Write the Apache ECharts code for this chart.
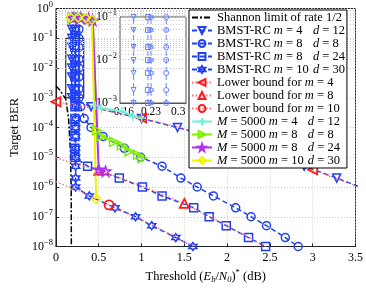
<!DOCTYPE html>
<html><head><meta charset="utf-8">
<script src="https://cdn.jsdelivr.net/npm/echarts@6/dist/echarts.min.js"></script>
<style>html,body{margin:0;padding:0;background:#fff}#c{width:366px;height:289px}</style>
</head><body><div id="c"></div><script>
// ---------- data ----------
const berTargets = [5e-1,2e-1,1e-1,5e-2,2e-2,1e-2,5e-3,2e-3,1e-3,5e-4,2e-4,1e-4,5e-5,2e-5,1e-5,5e-6,2e-6,1e-6,5e-7,2e-7,1e-7,5e-8,2e-8,1e-8];
// thresholds (dB) for each target BER, in the order of berTargets
const bmstM4D12  = [0.185,0.185,0.185,0.185,0.185,0.185,0.185,0.185,0.185,0.41,1.0,1.42,1.82,2.29,2.62,2.90,3.28,3.55];
const bmstM8D8   = [0.269,0.269,0.269,0.269,0.269,0.269,0.269,0.269,0.269,0.29,0.33,0.41,0.55,0.80,0.99,1.24,1.46,1.65,1.84,2.10,2.28,2.46,2.68,2.83];
const bmstM8D24  = [0.222,0.222,0.222,0.222,0.222,0.222,0.222,0.222,0.222,0.222,0.222,0.222,0.222,0.222,0.222,0.37,0.74,1.01,1.24,1.61,1.79,1.99,2.25,2.45];
const bmstM10D30 = [0.23,0.23,0.23,0.23,0.23,0.23,0.23,0.23,0.23,0.23,0.23,0.23,0.23,0.23,0.23,0.23,0.23,0.23,0.39,0.69,0.93,1.12,1.40,1.60];

const shannonX = [0, 0.04, 0.115, 0.147, 0.169, 0.178, 0.18];
const shannonY = [2.5e-3, 1.9e-3, 9e-4, 2.1e-4, 1.7e-5, 1e-6, 1e-8];

const lbM4X = [0, 0.5, 1, 1.5, 2, 2.5, 3, 3.5];
const lbM4Y = [7.3e-4, 4.2e-4, 2.1e-4, 9e-5, 3.2e-5, 1.2e-5, 3.8e-6, 1.1e-6];
const lbM4Marked = [0, 1, 2, 3];
const lbM8X = [0, 0.5, 1, 1.5, 2, 2.45];
const lbM8Y = [9.5e-6, 3.6e-6, 1.1e-6, 2.8e-7, 5e-8, 1e-8];
const lbM8Marked = [0.5, 1.5];
const lbM10X = [0, 0.25, 0.5, 0.62, 0.75, 1, 1.25, 1.5, 1.62];
const lbM10Y = [1.5e-6, 8e-7, 3.5e-7, 2.5e-7, 1.6e-7, 8e-8, 3.5e-8, 1.4e-8, 1e-8];
const lbM10Marked = [0.62];

const m5kM4D12X  = [0.18, 0.27, 0.36, 0.42, 0.46, 0.53, 0.77, 0.90, 1.0];
const m5kM4D12Y  = [0.47, 0.47, 0.46, 0.42, 5.5e-4, 4.4e-4, 3.5e-4, 2.4e-4, 2.1e-4];
const m5kM8D8X   = [0.19, 0.28, 0.37, 0.43, 0.48, 0.53, 0.68, 0.77, 0.86, 0.96, 1.01];
const m5kM8D8Y   = [0.47, 0.46, 0.45, 0.40, 8e-5, 5.1e-5, 3.3e-5, 2.5e-5, 1.6e-5, 1.2e-5, 9.5e-6];
const m5kM8D24X  = [0.20, 0.29, 0.38, 0.43, 0.50, 0.58];
const m5kM8D24Y  = [0.48, 0.48, 0.46, 0.40, 3.9e-6, 3.4e-6];
const m5kM10D30X = [0.17, 0.26, 0.35, 0.42, 0.47];
const m5kM10D30Y = [0.5, 0.5, 0.48, 0.42, 4e-7];

const insetXTicks = [0.16, 0.23, 0.3];
const zoomBoxX = [0.115, 0.325];
const zoomBoxY = [1e-3, 1e-1];

// ---------- styling ----------
const FONT = 'Liberation Serif';
const BLUE = '#1f3ff5', BLUE_IN = '#6b84ff', RED = '#ff1a1a', RED_L = '#ff7070';
const CYAN = '#6ff2d6', GREEN = '#80f000', MAG = '#b030f0', YEL = '#f2f200';
const HEX = 'path://M0,-10L2.887,-5L8.66,-5L5.774,0L8.66,5L2.887,5L0,10L-2.887,5L-8.66,5L-5.774,0L-8.66,-5L-2.887,-5Z';
const PENT = 'path://M0,-10L2.245,-3.09L9.511,-3.09L3.633,1.18L5.878,8.09L0,3.82L-5.878,8.09L-3.633,1.18L-9.511,-3.09L-2.245,-3.09Z';
const PLUS = 'path://M0,-10L0,10M-10,0L10,0';

const zip = (xs, ys) => xs.map((x, i) => [x, ys[i]]);
const withTargets = xs => xs.map((x, i) => [x, berTargets[i]]);
const marked = (xs, ys, mk) => xs.map((x, i) => mk.indexOf(x) >= 0 ? [x, ys[i]] : {value: [x, ys[i]], symbol: 'none'});

function hollow(color, w) { return {color: 'rgba(0,0,0,0)', borderColor: color, borderWidth: w || 1.5}; }

const N = {
  sh: 'Shannon limit of rate 1/2',
  b1: 'BMST-RC m=4 d=12', b2: 'BMST-RC m=8 d=8', b3: 'BMST-RC m=8 d=24', b4: 'BMST-RC m=10 d=30',
  l1: 'Lower bound m=4', l2: 'Lower bound m=8', l3: 'Lower bound m=10',
  f1: 'M=5000 m=4 d=12', f2: 'M=5000 m=8 d=8', f3: 'M=5000 m=8 d=24', f4: 'M=5000 m=10 d=30'
};
const legendText = {};
legendText[N.sh] = '{t|Shannon limit of rate 1/2}';
legendText[N.b1] = '{t|BMST-RC }{i|m}{a| = 4}{i|d}{t| = 12}';
legendText[N.b2] = '{t|BMST-RC }{i|m}{a| = 8}{i|d}{t| = 8}';
legendText[N.b3] = '{t|BMST-RC }{i|m}{a| = 8}{i|d}{t| = 24}';
legendText[N.b4] = '{t|BMST-RC }{i|m}{a| = 10}{i|d}{t| = 30}';
legendText[N.l1] = '{t|Lower bound for }{i|m}{t| = 4}';
legendText[N.l2] = '{t|Lower bound for }{i|m}{t| = 8}';
legendText[N.l3] = '{t|Lower bound for }{i|m}{t| = 10}';
legendText[N.f1] = '{i|M}{t| = 5000 }{i|m}{a| = 4}{i|d}{t| = 12}';
legendText[N.f2] = '{i|M}{t| = 5000 }{i|m}{a| = 8}{i|d}{t| = 8}';
legendText[N.f3] = '{i|M}{t| = 5000 }{i|m}{a| = 8}{i|d}{t| = 24}';
legendText[N.f4] = '{i|M}{t| = 5000 }{i|m}{a| = 10}{i|d}{t| = 30}';

const minorVals = [];
for (let e = -8; e < 0; e++) for (let k = 2; k <= 9; k++) minorVals.push(k * Math.pow(10, e));

const powLabel = v => { const e = Math.round(Math.log10(v)); return '{b|10}{e|' + (e < 0 ? '\u2212' + (-e) : e) + '}'; };
const powRich = {
  b: {fontFamily: FONT, fontSize: 12, color: '#000'},
  e: {fontFamily: FONT, fontSize: 8.5, color: '#000', padding: [0, 0, 8, 0]}
};

function bmst(name, xs, sym, rot, inset) {
  return {
    name: inset ? 'in-' + name : name, type: 'line', data: withTargets(xs),
    xAxisIndex: inset ? 1 : 0, yAxisIndex: inset ? 1 : 0,
    symbol: sym, symbolRotate: rot || 0, symbolSize: inset ? 5 : 8,
    lineStyle: {color: inset ? BLUE_IN : BLUE, width: inset ? 1 : 1.5, type: [5, 3]},
    itemStyle: hollow(inset ? BLUE_IN : BLUE, inset ? 1 : 1.5),
    clip: true, z: inset ? 6 : 3, animation: false
  };
}
function bound(name, xs, ys, mk, sym, rot) {
  return {
    name, type: 'line', data: marked(xs, ys, mk), symbol: sym, symbolRotate: rot || 0, symbolSize: 9,
    lineStyle: {color: RED_L, width: 1.3, type: [1.5, 2]},
    itemStyle: hollow(RED, 1.8), clip: true, z: 4, animation: false
  };
}
function fin(name, xs, ys, color, sym, rot, size) {
  return {
    name, type: 'line', data: zip(xs, ys), symbol: sym, symbolRotate: rot || 0, symbolSize: size || 8,
    lineStyle: {color, width: 2}, itemStyle: sym === PLUS ? {color, borderColor: color, borderWidth: 1.5} : hollow(color, 1.5),
    clip: true, z: 5, animation: false
  };
}

const series = [
  {name: '__minor', type: 'line', data: [], z: 1, silent: true, animation: false,
   markLine: {silent: true, symbol: 'none', label: {show: false}, animation: false,
     lineStyle: {color: '#c8c8c8', type: [1, 2], width: 1}, data: minorVals.map(v => ({yAxis: v}))}},
  {name: N.sh, type: 'line', data: zip(shannonX, shannonY), symbol: 'circle', showSymbol: false,
   lineStyle: {color: '#000', width: 1.5, type: [6, 2, 2, 2]}, itemStyle: {color: 'rgba(0,0,0,0)', borderWidth: 0}, z: 3, animation: false,
   markArea: {silent: true, itemStyle: {color: 'rgba(0,0,0,0)', borderColor: '#000', borderWidth: 1},
     data: [[{coord: [zoomBoxX[0], zoomBoxY[1]]}, {coord: [zoomBoxX[1], zoomBoxY[0]]}]]}},
  bmst(N.b1, bmstM4D12, 'triangle', 180),
  bmst(N.b2, bmstM8D8, 'circle'),
  bmst(N.b3, bmstM8D24, 'rect'),
  bmst(N.b4, bmstM10D30, HEX),
  bound(N.l1, lbM4X, lbM4Y, lbM4Marked, 'triangle', 90),
  bound(N.l2, lbM8X, lbM8Y, lbM8Marked, 'triangle'),
  bound(N.l3, lbM10X, lbM10Y, lbM10Marked, 'circle'),
  fin(N.f1, m5kM4D12X, m5kM4D12Y, CYAN, PLUS, 0, 9),
  fin(N.f2, m5kM8D8X, m5kM8D8Y, GREEN, 'triangle', -90, 9),
  fin(N.f3, m5kM8D24X, m5kM8D24Y, MAG, PENT, 0, 10),
  fin(N.f4, m5kM10D30X, m5kM10D30Y, YEL, 'diamond', 0, 9),
  {name: '__insetbg', type: 'line', data: [], xAxisIndex: 1, yAxisIndex: 1, z: 5.5, silent: true, animation: false,
   markArea: {silent: true, itemStyle: {color: '#fff'}, data: [[{xAxis: 'min', yAxis: 'max'}, {xAxis: 'max', yAxis: 'min'}]]}},
  bmst(N.b1, bmstM4D12, 'triangle', 180, true),
  bmst(N.b2, bmstM8D8, 'circle', 0, true),
  bmst(N.b3, bmstM8D24, 'rect', 0, true),
  bmst(N.b4, bmstM10D30, HEX, 0, true)
];

const axisLineStyle = {lineStyle: {color: '#222', width: 1}};
const option = {
  backgroundColor: '#fff',
  animation: false,
  textStyle: {fontFamily: FONT},
  grid: [
    {left: 39, right: 6, top: 8, bottom: 31, show: true, borderColor: '#222', borderWidth: 1, backgroundColor: '#fff'},
    {left: 120, top: 17, width: 66, height: 86, show: true, borderColor: '#555', borderWidth: 1, backgroundColor: '#fff', z: 3}
  ],
  xAxis: [
    {type: 'value', gridIndex: 0, min: 0, max: 3.5, interval: 0.5,
     name: '{t|Threshold (}{i|E}{s|b}{t|/}{i|N}{s|0}{t|)}{p|*}{t| (dB)}', nameLocation: 'middle', nameGap: 22,
     nameTextStyle: {rich: {
       t: {fontFamily: FONT, fontSize: 12.5, color: '#000'},
       i: {fontFamily: FONT, fontSize: 12.5, fontStyle: 'italic', color: '#000'},
       s: {fontFamily: FONT, fontSize: 8.5, fontStyle: 'italic', color: '#000', padding: [6, 0, 0, 0]},
       p: {fontFamily: FONT, fontSize: 8.5, color: '#000', padding: [0, 0, 7, 0]}}},
     axisLine: axisLineStyle, axisTick: {inside: true, length: 3, lineStyle: {color: '#222'}},
     axisLabel: {fontFamily: FONT, fontSize: 12, color: '#000', margin: 5},
     splitLine: {show: true, lineStyle: {color: '#c8c8c8', type: [1, 2]}}},
    {type: 'value', gridIndex: 1, min: 0.15, max: 0.32,
     axisLine: {lineStyle: {color: '#555'}},
     axisTick: {inside: true, length: 2, customValues: insetXTicks, lineStyle: {color: '#555'}},
     axisLabel: {customValues: insetXTicks, fontFamily: FONT, fontSize: 11.5, color: '#000', margin: 3, formatter: v => String(v)},
     splitLine: {show: false}}
  ],
  yAxis: [
    {type: 'log', gridIndex: 0, min: 1e-8, max: 1, logBase: 10, splitNumber: 8,
     name: 'Target BER', nameLocation: 'middle', nameGap: 27,
     nameTextStyle: {fontFamily: FONT, fontSize: 12.5, color: '#000'},
     axisLine: axisLineStyle, axisTick: {inside: true, length: 3, lineStyle: {color: '#222'}},
     axisLabel: {formatter: powLabel, rich: powRich, margin: 3},
     splitLine: {show: true, lineStyle: {color: '#c8c8c8', type: [1, 2]}}},
    {type: 'log', gridIndex: 1, min: 1e-3, max: 1e-1, logBase: 10,
     axisLine: {lineStyle: {color: '#555'}},
     axisTick: {inside: true, length: 2, lineStyle: {color: '#555'}},
     axisLabel: {formatter: powLabel, rich: powRich, margin: 3},
     splitLine: {show: false}}
  ],
  legend: {
    data: [N.sh, N.b1, N.b2, N.b3, N.b4, N.l1, N.l2, N.l3, N.f1, N.f2, N.f3, N.f4],
    orient: 'vertical', left: 189, top: 10, width: 170,
    backgroundColor: '#fff', borderColor: '#000', borderWidth: 1, borderRadius: 0,
    padding: [1, 2, 1, 2], itemGap: 0, itemWidth: 20, itemHeight: 8.6,
    formatter: n => legendText[n] || n,
    textStyle: {padding: [0, 0, 0, 0], rich: {
      t: {fontFamily: FONT, fontSize: 12.5, color: '#000', lineHeight: 8.6},
      i: {fontFamily: FONT, fontSize: 12.5, fontStyle: 'italic', color: '#000', lineHeight: 8.6},
      a: {fontFamily: FONT, fontSize: 12.5, color: '#000', lineHeight: 8.6, width: 30}}},
    selectedMode: false, z: 10
  },
  series
};
const chart = echarts.init(document.getElementById('c'), null, {renderer: 'canvas'});
chart.setOption(option);
</script></body></html>
